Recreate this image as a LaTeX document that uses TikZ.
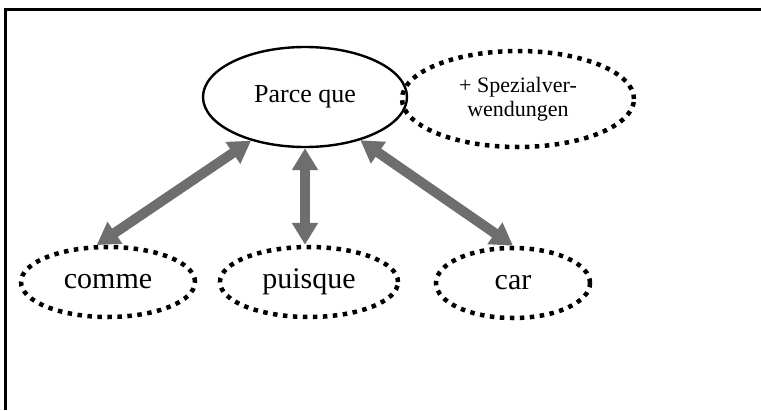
\documentclass[tikz,border=0pt]{standalone}
\usepackage{fontspec}
\setmainfont{Liberation Serif}
\usetikzlibrary{shapes.geometric,arrows.meta}
\definecolor{linkgray}{HTML}{6E6E6E}
\tikzset{
  mainterm/.style={ellipse, draw=black, line width=2.4pt, inner sep=0pt,
    minimum width=204pt, minimum height=100pt, font=\fontsize{26}{28}\selectfont},
  variant/.style={ellipse, draw=black, line width=4.5pt, dash pattern=on 4.5pt off 5.5pt,
    inner sep=0pt, font=\fontsize{30}{32}\selectfont},
  extra/.style={variant, align=center, font=\fontsize{22}{24.5}\selectfont},
  link/.style={draw=linkgray, line width=10pt,
    {Triangle[length=22pt,width=25pt]}-{Triangle[length=22pt,width=25pt]}},
  frame/.style={line width=3pt}
}
\begin{document}
\begin{tikzpicture}[x=1pt,y=-1pt]
  \useasboundingbox (0,0) rectangle (761,410);
  % open frame: left and top edges
  \draw[frame] (5.5,410) -- (5.5,9) -- (761,9);

  % central term and its additions
  \node[mainterm] (parce) at (305,97) {Parce que};
  \node[extra, minimum width=232pt, minimum height=96pt] (spezial) at (518,99)
    {+ Spezialver-\\wendungen};

  % alternative conjunctions
  \node[variant, minimum width=174pt, minimum height=70pt] (comme) at (108,282) {comme};
  \node[variant, minimum width=178pt, minimum height=70pt] (puisque) at (309,282) {puisque};
  \node[variant, minimum width=154pt, minimum height=70pt] (car) at (513,283) {car};

  % relations
  \draw[link] (parce.219) -- (comme.107);
  \draw[link] (parce.south) -- (parce.south |- puisque.north);
  \draw[link] (parce.322) -- (car.north);
\end{tikzpicture}
\end{document}
